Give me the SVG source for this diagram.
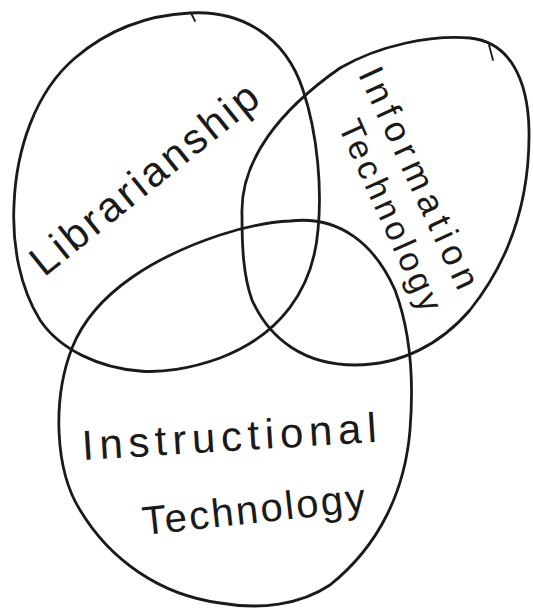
<svg xmlns="http://www.w3.org/2000/svg" width="533" height="609" viewBox="0 0 533 609">
  <style>
    .outline { fill: none; stroke: #1a1a1a; stroke-width: 2.8; stroke-linecap: round; stroke-linejoin: round; }
    .tick { fill: none; stroke: #1a1a1a; stroke-width: 1.8; stroke-linecap: round; }
    .label { fill: #1a1a1a; font-family: "Liberation Sans", Arial, sans-serif; text-anchor: middle; }
  </style>
  <rect x="0" y="0" width="533" height="609" fill="#ffffff"/>

  <g id="librarianship">
    <path class="outline" d="M 190,13 C 240,10 285,35 303,90 C 318,135 322,190 318,230 C 313,290 280,335 220,358 C 190,369 160,373 140,371 C 100,368 60,350 40,320 C 20,288 12,245 14,205 C 16,150 35,92 75,58 C 110,28 150,15 190,13 Z"/>
    <path class="tick" d="M 191,13 L 195,21"/>
    <text class="label" font-size="42" textLength="280" lengthAdjust="spacing" transform="translate(153,190) rotate(-38.8)">Librarianship</text>
  </g>

  <g id="information-technology">
    <path class="outline" d="M 242,215 C 240,160 280,110 340,68 C 380,45 430,35 470,38 C 510,42 528,80 529,130 C 530,200 510,260 470,310 C 440,345 400,365 355,365 C 305,365 270,340 252,300 C 243,275 242,245 242,215 Z"/>
    <path class="tick" d="M 489,45 L 493,60"/>
    <text class="label" font-size="36" textLength="240" lengthAdjust="spacing" transform="translate(408,183) rotate(65.2)">Information</text>
    <text class="label" font-size="34" textLength="206" lengthAdjust="spacing" transform="translate(380,220) rotate(65.8)">Technology</text>
  </g>

  <g id="instructional-technology">
    <path class="outline" d="M 290,221 C 340,215 375,245 395,290 C 410,330 414,380 410,430 C 405,490 380,545 330,585 C 300,605 260,610 220,603 C 160,595 110,560 80,510 C 55,470 52,400 72,348 C 95,290 160,255 220,235 C 245,227 268,222 290,221 Z"/>
    <text class="label" font-size="42" textLength="295" lengthAdjust="spacing" transform="translate(230,451) rotate(-3.5)">Instructional</text>
    <text class="label" font-size="40" textLength="224" lengthAdjust="spacing" transform="translate(255,523) rotate(-6.2)">Technology</text>
  </g>

  <g id="connectors"></g>
</svg>
